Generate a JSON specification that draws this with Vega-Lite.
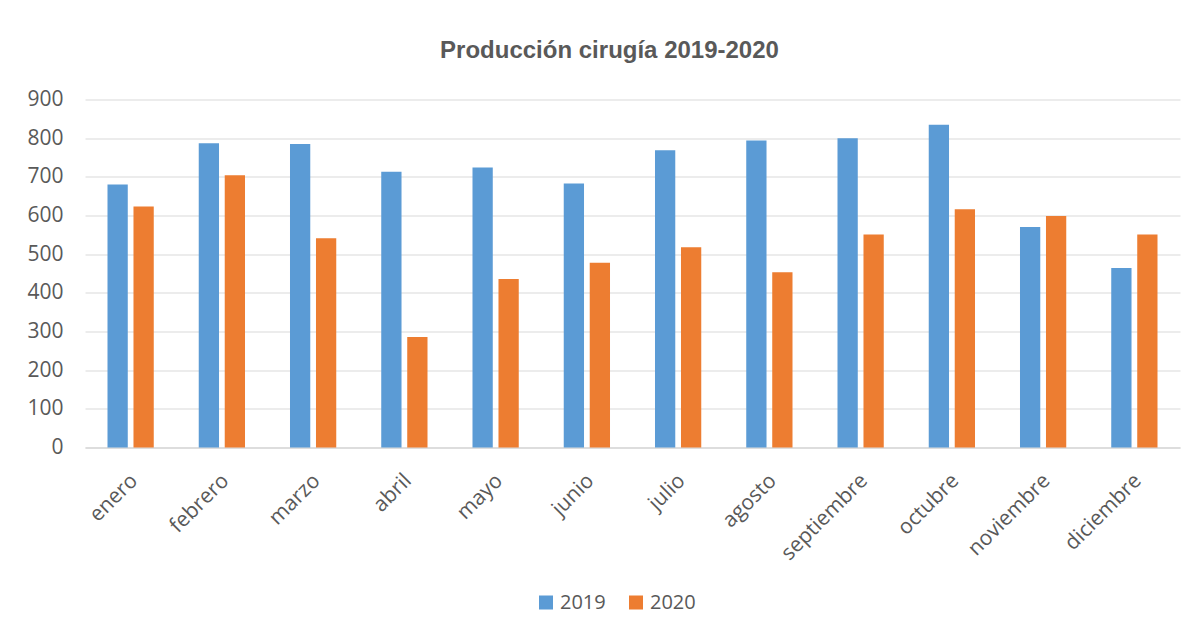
{
  "$schema": "https://vega.github.io/schema/vega-lite/v6.json",
  "width": 1095,
  "height": 348,
  "autosize": "none",
  "padding": {"left": 85, "top": 99.5, "right": 15, "bottom": 185.5},
  "background": "white",
  "title": {
    "text": "Producción cirugía 2019-2020",
    "font": "Liberation Sans",
    "fontSize": 24,
    "fontWeight": "bold",
    "color": "#595959",
    "anchor": "middle",
    "baseline": "alphabetic",
    "offset": 7,
    "dx": -23
  },
  "data": {
    "values": [
      {"mes": "enero", "anio": "2019", "valor": 680},
      {"mes": "enero", "anio": "2020", "valor": 623},
      {"mes": "febrero", "anio": "2019", "valor": 787},
      {"mes": "febrero", "anio": "2020", "valor": 704},
      {"mes": "marzo", "anio": "2019", "valor": 785},
      {"mes": "marzo", "anio": "2020", "valor": 541},
      {"mes": "abril", "anio": "2019", "valor": 713},
      {"mes": "abril", "anio": "2020", "valor": 286},
      {"mes": "mayo", "anio": "2019", "valor": 724},
      {"mes": "mayo", "anio": "2020", "valor": 436},
      {"mes": "junio", "anio": "2019", "valor": 683},
      {"mes": "junio", "anio": "2020", "valor": 478},
      {"mes": "julio", "anio": "2019", "valor": 769},
      {"mes": "julio", "anio": "2020", "valor": 518},
      {"mes": "agosto", "anio": "2019", "valor": 794},
      {"mes": "agosto", "anio": "2020", "valor": 453},
      {"mes": "septiembre", "anio": "2019", "valor": 800},
      {"mes": "septiembre", "anio": "2020", "valor": 551},
      {"mes": "octubre", "anio": "2019", "valor": 835},
      {"mes": "octubre", "anio": "2020", "valor": 616},
      {"mes": "noviembre", "anio": "2019", "valor": 570},
      {"mes": "noviembre", "anio": "2020", "valor": 599},
      {"mes": "diciembre", "anio": "2019", "valor": 464},
      {"mes": "diciembre", "anio": "2020", "valor": 551}
    ]
  },
  "mark": {"type": "bar"},
  "encoding": {
    "x": {
      "field": "mes",
      "type": "nominal",
      "sort": null,
      "title": null,
      "scale": {"paddingInner": 0.493, "paddingOuter": 0.2465},
      "axis": {
        "labelAngle": -45,
        "labelFont": "Open Sans",
        "labelFontSize": 21,
        "labelColor": "#595959",
        "labelPadding": 22,
        "labelOffset": -4,
        "ticks": false,
        "domain": true,
        "domainColor": "#D9D9D9",
        "domainWidth": 1.5,
        "grid": false
      }
    },
    "xOffset": {
      "field": "anio",
      "type": "nominal",
      "scale": {"paddingInner": 0.22, "paddingOuter": 0}
    },
    "y": {
      "field": "valor",
      "type": "quantitative",
      "title": null,
      "scale": {"domain": [0, 900], "nice": false},
      "axis": {
        "values": [0, 100, 200, 300, 400, 500, 600, 700, 800, 900],
        "labelFont": "Open Sans",
        "labelFontSize": 21,
        "labelColor": "#595959",
        "labelPadding": 22,
        "ticks": false,
        "domain": false,
        "grid": true,
        "gridColor": "#D9D9D9",
        "gridWidth": 1.2
      }
    },
    "color": {
      "field": "anio",
      "type": "nominal",
      "scale": {"domain": ["2019", "2020"], "range": ["#5B9BD5", "#ED7D31"]},
      "legend": {
        "title": null,
        "orient": "none",
        "direction": "horizontal",
        "legendX": 451,
        "legendY": 493,
        "symbolType": "square",
        "symbolSize": 196,
        "symbolStrokeWidth": 0,
        "labelFont": "Open Sans",
        "labelFontSize": 20,
        "labelColor": "#595959",
        "labelOffset": 4,
        "columnPadding": 20,
        "padding": 0
      }
    }
  },
  "config": {
    "view": {"stroke": null}
  }
}
